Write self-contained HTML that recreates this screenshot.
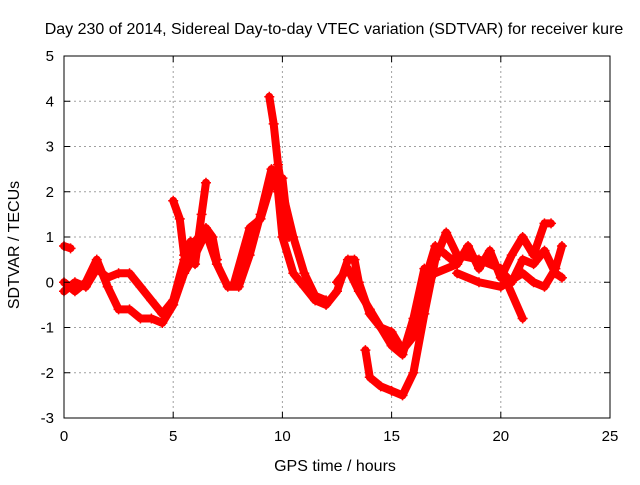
<!DOCTYPE html>
<html><head><meta charset="utf-8"><style>
body{margin:0;background:#fff}
svg text{font-family:"Liberation Sans",sans-serif;font-size:15px;fill:#000}
svg text.big{font-size:16px}
</style></head><body>
<svg id="chart" width="640" height="480">
<rect width="640" height="480" fill="#fff"/>
<g id="grid"></g>
<g id="series"></g>
<rect x="64" y="56" width="546" height="362" fill="none" stroke="#000" stroke-width="1"/>
<g id="axes"></g>
<text class="big" x="334" y="34" text-anchor="middle">Day 230 of 2014, Sidereal Day-to-day VTEC variation (SDTVAR) for receiver kure</text>
<text class="big" x="335" y="471" text-anchor="middle">GPS time / hours</text>
<text class="big" transform="translate(19,245) rotate(-90)" text-anchor="middle">SDTVAR / TECUs</text>
</svg>
<script>
const xTicks=[0,5,10,15,20,25];
const yTicks=[-3,-2,-1,0,1,2,3,4,5];
const track1=[[0,0.8],[0.3,0.75]];
const track2=[[0,-0.2],[0.5,0],[1,-0.1],[1.5,0.3],[2,0.1],[2.5,0.2],[3,0.2],[3.5,-0.1],[4,-0.4],[4.5,-0.7],[5,-0.4],[5.5,0.5],[6,0.9],[6.5,1.2],[6.8,1.0],[7,0.5]];
const track3=[[0,0],[0.5,-0.2],[1,0],[1.5,0.5],[2,-0.1],[2.5,-0.6],[3,-0.6],[3.5,-0.8],[4,-0.8],[4.5,-0.9],[5,-0.5],[5.5,0.2],[6,0.6],[6.5,1.1],[7,0.4],[7.5,-0.1],[8,-0.1],[8.5,0.6],[9,1.5],[9.5,2.5],[9.8,2.0],[10,1.0],[10.5,0.2],[11,-0.1],[11.5,-0.4],[12,-0.5],[12.5,-0.2],[13,0.5],[13.3,0.5],[13.5,0],[14,-0.7],[14.5,-1.0],[15,-1.1],[15.5,-1.5],[16,-1.2],[16.5,0],[17,0.8],[17.5,0.6],[18,0.4]];
const track4=[[9.4,4.1],[9.6,3.5],[9.8,2.6],[10,2.0],[10.5,1.0],[11,0.2],[11.5,-0.3],[12,-0.4]];
const track5=[[5,1.8],[5.3,1.4],[5.5,0.6],[5.8,0.9],[6,0.4],[6.3,1.5],[6.5,2.2]];
const track6=[[13.8,-1.5],[14,-2.1],[14.5,-2.3],[15,-2.4],[15.5,-2.5],[16,-2.0],[16.5,-0.7],[17,0.5],[17.5,1.1],[18,0.6],[19,0.5],[20,0.3],[21,-0.8]];
const track7=[[17,0.2],[18,0.4],[18.5,0.8],[19,0.3],[19.5,0.7],[20,0.1],[20.5,0.6],[21,1.0],[21.5,0.6],[22,1.3],[22.3,1.3]];
const track8=[[18,0.2],[19,0],[20,-0.1],[21,0.2],[21.5,0],[22,-0.1],[22.5,0.3],[22.8,0.8]];
const track9=[[19.5,0.5],[20.5,0],[21,0.5],[21.5,0.4],[22,0.7],[22.5,0.2],[22.8,0.1]];
const track10=[[7.8,0],[8.5,1.2],[9,1.4],[9.5,2.2],[10,2.3],[10.3,1.0]];
const track11=[[12.5,0],[13,0.3],[13.5,-0.2],[14,-0.6],[15,-1.4],[15.5,-1.6],[16,-0.8],[16.5,0.3]];
const tracks=[track1,track2,track3,track4,track5,track6,track7,track8,track9,track10,track11];
const NS="http://www.w3.org/2000/svg";
const X0=64,X1=610,Y0=418,Y1=56;
const xs=v=>X0+(v-0)/(25-0)*(X1-X0);
const ys=v=>Y0-(v+3)/(5+3)*(Y0-Y1);
function mk(tag,attrs,parent){const e=document.createElementNS(NS,tag);for(const k in attrs)e.setAttribute(k,attrs[k]);parent.appendChild(e);return e;}
const grid=document.getElementById('grid'),axes=document.getElementById('axes'),series=document.getElementById('series');
xTicks.forEach(t=>{const x=xs(t);
 if(t>0&&t<25){const g=mk('line',{x1:x,x2:x,y1:Y0,y2:Y1,stroke:'#a0a0a0','stroke-dasharray':'2,3'},grid);
 
 }
 mk('line',{x1:x,x2:x,y1:Y0,y2:Y0-6,stroke:'#000'},axes);
 mk('line',{x1:x,x2:x,y1:Y1,y2:Y1+6,stroke:'#000'},axes);
 const l=mk('text',{x:x,y:Y0+23,'text-anchor':'middle'},axes);l.textContent=t;
 
 });
yTicks.forEach(t=>{const y=ys(t);
 if(t>-3&&t<5){const g=mk('line',{x1:X0,x2:X1,y1:y,y2:y,stroke:'#a0a0a0','stroke-dasharray':'2,3'},grid);
 
 }
 mk('line',{x1:X0,x2:X0+6,y1:y,y2:y,stroke:'#000'},axes);
 mk('line',{x1:X1,x2:X1-6,y1:y,y2:y,stroke:'#000'},axes);
 const l=mk('text',{x:X0-10,y:y+5,'text-anchor':'end'},axes);l.textContent=t;
 
 });
tracks.forEach((tr,i)=>{
 const p=mk('polyline',{points:tr.map(d=>xs(d[0])+','+ys(d[1])).join(' '),fill:'none',stroke:'#ff0000','stroke-width':8,'stroke-linejoin':'round','stroke-linecap':'round'},series);
 
 
 tr.forEach(d=>{const x=xs(d[0]),y=ys(d[1]);
  mk('path',{d:`M${x-5},${y}H${x+5}M${x},${y-5}V${y+5}`,stroke:'#ff0000','stroke-width':1.5},series);});
});
</script>
</body></html>
